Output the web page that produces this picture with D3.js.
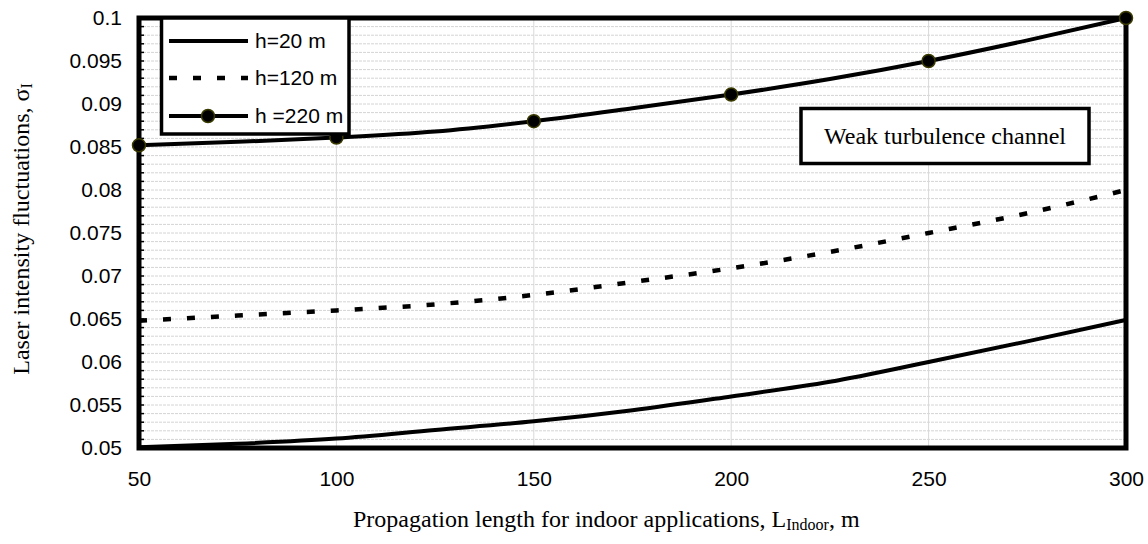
<!DOCTYPE html>
<html><head><meta charset="utf-8">
<script src="https://cdn.jsdelivr.net/npm/d3@7"></script>
<style>body{margin:0;background:#fff}svg{display:block}</style>
</head><body>
<svg id="c" width="1148" height="544"></svg>
<script>
const lengths = [50, 75, 100, 125, 150, 175, 200, 225, 250, 275, 300];
const h20  = [0.0501, 0.0505, 0.0511, 0.0521, 0.0531, 0.0544, 0.0560, 0.0577, 0.0600, 0.0624, 0.0649];
const h120 = [0.0648, 0.0654, 0.0660, 0.0667, 0.0678, 0.0693, 0.0709, 0.0728, 0.0750, 0.0773, 0.0800];
const h220 = [0.0852, 0.0856, 0.0861, 0.0868, 0.0880, 0.0895, 0.0911, 0.0929, 0.0950, 0.0974, 0.1000];
const markerLengths = [50, 100, 150, 200, 250, 300];
const xTicks = [50, 100, 150, 200, 250, 300];
const yTicks = [0.05, 0.055, 0.06, 0.065, 0.07, 0.075, 0.08, 0.085, 0.09, 0.095, 0.1];
const yTickLabels = ["0.05","0.055","0.06","0.065","0.07","0.075","0.08","0.085","0.09","0.095","0.1"];
const seriesNames = ["h=20 m", "h=120 m", "h =220 m"];

const svg = d3.select("#c");
const L = 139, R = 1126, T = 18, B = 448;
const x = d3.scaleLinear().domain([50, 300]).range([L, R]);
const y = d3.scaleLinear().domain([0.05, 0.1]).range([B, T]);

// grid
const minor = d3.range(0, 51).map(i => 0.05 + i * 0.001);
svg.append("g").selectAll("line").data(minor).join("line")
  .attr("x1", L).attr("x2", R).attr("y1", d => y(d)).attr("y2", d => y(d))
  .attr("stroke", "#d4d4d4").attr("stroke-width", 1).attr("stroke-dasharray", "3,1");
svg.append("g").selectAll("line").data(xTicks.slice(1, -1)).join("line")
  .attr("x1", d => x(d)).attr("x2", d => x(d)).attr("y1", T).attr("y2", B)
  .attr("stroke", "#d9d9d9").attr("stroke-width", 1);

// minor ticks on left axis (inside)
svg.append("g").selectAll("line").data(minor).join("line")
  .attr("x1", L).attr("x2", L + 5).attr("y1", d => y(d)).attr("y2", d => y(d))
  .attr("stroke", "#000").attr("stroke-width", 1.5);

// axes labels via d3 axes
const yAxis = svg.append("g").attr("transform", `translate(${L},0)`)
  .call(d3.axisLeft(y).tickValues(yTicks).tickSize(0).tickPadding(17)
    .tickFormat((d, i) => yTickLabels[i]));
yAxis.select(".domain").remove();
yAxis.selectAll("text").attr("font-family", "Liberation Sans, Arial, sans-serif")
  .attr("font-size", 21).attr("fill", "#000");

const xAxis = svg.append("g").attr("transform", `translate(0,${B})`)
  .call(d3.axisBottom(x).tickValues(xTicks).tickSize(0).tickPadding(23).tickFormat(d3.format("d")));
xAxis.select(".domain").remove();
xAxis.selectAll("text").attr("font-family", "Liberation Sans, Arial, sans-serif")
  .attr("font-size", 21).attr("fill", "#000");

// frame
svg.append("rect").attr("x", L).attr("y", T).attr("width", R - L).attr("height", B - T)
  .attr("fill", "none").attr("stroke", "#000").attr("stroke-width", 5);

// lines
const line = d3.line().x((d, i) => x(lengths[i])).y(d => y(d)).curve(d3.curveMonotoneX);
svg.append("path").attr("d", line(h20)).attr("fill", "none").attr("stroke", "#000").attr("stroke-width", 4);
svg.append("path").attr("d", line(h120)).attr("fill", "none").attr("stroke", "#000").attr("stroke-width", 4.5)
  .attr("stroke-dasharray", "8,16");
svg.append("path").attr("d", line(h220)).attr("fill", "none").attr("stroke", "#000").attr("stroke-width", 4);
svg.append("g").selectAll("circle").data(markerLengths).join("circle")
  .attr("cx", d => x(d)).attr("cy", d => y(h220[lengths.indexOf(d)]))
  .attr("r", 6.5).attr("fill", "#000").attr("stroke", "#3a3a00").attr("stroke-width", 1.5);

// legend
const lg = svg.append("g");
lg.append("rect").attr("x", 161.5).attr("y", T).attr("width", 187.5).attr("height", 116)
  .attr("fill", "#fff").attr("stroke", "#000").attr("stroke-width", 3.5);
const rowsY = [41, 78, 116];
seriesNames.forEach((n, i) => {
  const ln = lg.append("line").attr("x1", 169).attr("x2", 248).attr("y1", rowsY[i]).attr("y2", rowsY[i])
    .attr("stroke", "#000").attr("stroke-width", 4);
  if (i === 1) ln.attr("stroke-dasharray", "8,16").attr("stroke-width", 4.5);
  if (i === 2) lg.append("circle").attr("cx", 208).attr("cy", rowsY[i]).attr("r", 6.5)
    .attr("fill", "#000").attr("stroke", "#3a3a00").attr("stroke-width", 1.5);
  lg.append("text").attr("x", 255).attr("y", rowsY[i]).attr("dy", "0.35em")
    .attr("font-family", "Liberation Sans, Arial, sans-serif").attr("font-size", 21).text(n);
});

// annotation box
svg.append("rect").attr("x", 801).attr("y", 108.5).attr("width", 288).attr("height", 55)
  .attr("fill", "#fff").attr("stroke", "#000").attr("stroke-width", 3.5);
svg.append("text").attr("x", 945).attr("y", 136).attr("dy", "0.33em").attr("text-anchor", "middle")
  .attr("font-family", "Liberation Serif, Times New Roman, serif").attr("font-size", 24)
  .text("Weak turbulence channel");

// axis titles
const xt = svg.append("text").attr("x", 353).attr("y", 527)
  .attr("font-family", "Liberation Serif, Times New Roman, serif").attr("font-size", 24);
xt.append("tspan").text("Propagation length for indoor applications, L");
xt.append("tspan").attr("font-size", 16).attr("dy", 3).text("Indoor");
xt.append("tspan").attr("dy", -3).text(", m");

const yt = svg.append("text").attr("transform", "translate(29,229) rotate(-90)").attr("text-anchor", "middle")
  .attr("font-family", "Liberation Serif, Times New Roman, serif").attr("font-size", 24);
yt.append("tspan").text("Laser intensity fluctuations, σ");
yt.append("tspan").attr("font-size", 16).attr("dy", 3).text("I");
</script>
</body></html>
